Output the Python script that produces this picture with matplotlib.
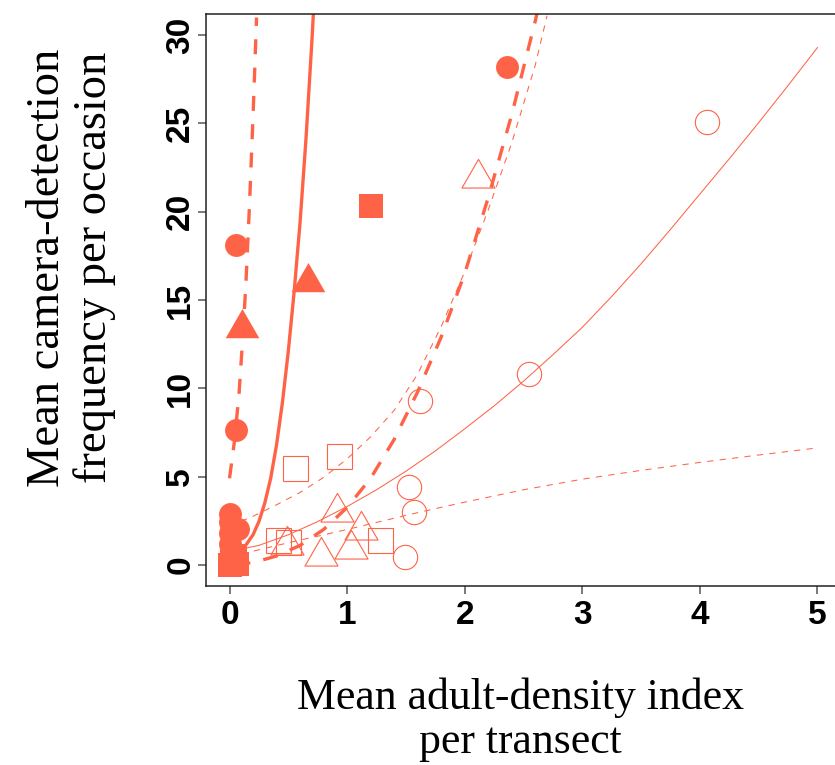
import matplotlib
matplotlib.use("Agg")
import matplotlib.pyplot as plt
from matplotlib.path import Path

TOMATO = "#FF6347"

# ── points ───────────────────────────────────────────────────────────────────
fill_circ_x = [0.00, 0.00, 0.00, 0.07, 0.00, 0.03, 0.055, 0.055, 2.36]
fill_circ_y = [2.85, 2.45, 1.80, 2.00, 1.20, 0.80, 7.65, 18.1, 28.2]
fill_sq_x   = [0.00, 0.06, 0.02, 0.05, 1.20]
fill_sq_y   = [0.00, 0.02, 0.35, 0.50, 20.3]
fill_tri_x  = [0.11, 0.665]
fill_tri_y  = [13.4, 16.0]

open_circ_x = [4.06, 2.55, 1.62, 1.53, 1.57, 1.49]
open_circ_y = [25.1, 10.8, 9.28, 4.38, 3.00, 0.46]
open_sq_x   = [0.557, 0.934, 0.41, 0.50, 1.28]
open_sq_y   = [5.48, 6.19, 1.42, 1.28, 1.38]
open_tri_x  = [0.915, 1.12, 0.78, 1.035, 0.49, 2.11]
open_tri_y  = [2.97, 1.98, 0.50, 0.90, 1.10, 21.9]

# ── fitted curves (sampled from the figure) ─────────────────────────────────
# thick dashed, steep
c1_x = [0.00, 0.04, 0.08, 0.11, 0.14, 0.17, 0.20, 0.23]
c1_y = [4.9, 6.9, 9.6, 12.6, 16.0, 20.4, 25.4, 31.0]
# thick solid
c2_x = [0.00, 0.10, 0.20, 0.25, 0.30, 0.35, 0.40, 0.45, 0.50, 0.55, 0.60,
        0.65, 0.70, 0.713]
c2_y = [0.30, 0.75, 1.70, 2.45, 3.50, 4.90, 6.80, 9.20, 12.1, 15.5, 19.4,
        24.1, 29.6, 31.2]
# thick dashed, second
c3_x = [0.05, 0.20, 0.40, 0.60, 0.80, 1.00, 1.20, 1.40, 1.60, 1.80, 2.00,
        2.20, 2.40, 2.60, 2.62]
c3_y = [0.03, 0.12, 0.50, 1.10, 2.00, 3.25, 4.90, 7.10, 9.80, 12.9, 16.5,
        20.8, 25.5, 30.8, 31.4]
# thin dashed, upper
c4_x = [0.00, 0.20, 0.40, 0.60, 0.80, 1.00, 1.20, 1.40, 1.60, 1.80, 2.00,
        2.20, 2.40, 2.60, 2.70]
c4_y = [2.20, 2.75, 3.40, 4.10, 4.95, 6.00, 7.25, 8.75, 10.8, 13.5, 16.6,
        20.1, 23.9, 28.3, 31.1]
# thin solid
c5_x = [0.00, 0.25, 0.50, 0.75, 1.00, 1.25, 1.50, 1.75, 2.00, 2.25, 2.50,
        2.75, 3.00, 3.25, 3.50, 3.75, 4.00, 4.25, 4.50, 4.75, 5.00]
c5_y = [0.75, 1.10, 1.70, 2.45, 3.30, 4.25, 5.30, 6.45, 7.70, 9.00, 10.4,
        11.9, 13.45, 15.2, 17.05, 19.0, 21.0, 23.0, 25.05, 27.15, 29.3]
# thin dashed, lower
c6_x = [0.00, 0.25, 0.50, 0.75, 1.00, 1.25, 1.50, 1.75, 2.00, 2.50, 2.75,
        3.00, 3.50, 4.00, 4.50, 5.00]
c6_y = [0.45, 0.85, 1.25, 1.62, 2.00, 2.40, 2.80, 3.18, 3.55, 4.25, 4.55,
        4.85, 5.35, 5.80, 6.22, 6.62]

x_ticks = [0, 1, 2, 3, 4, 5]
y_ticks = [0, 5, 10, 15, 20, 25, 30]

# R-style equilateral triangle centred on its circumcentre
tri = Path([(0, 1.5551), (1.3468, -0.7776), (-1.3468, -0.7776), (0, 1.5551)],
           [Path.MOVETO, Path.LINETO, Path.LINETO, Path.CLOSEPOLY])

fig = plt.figure(figsize=(8.35, 7.65), dpi=100)
ax = fig.add_axes([0.2467, 0.234, 0.7605, 0.7477])

# filled symbols
ax.plot(fill_circ_x, fill_circ_y, ls="none", marker="o", ms=16.5,
        mfc=TOMATO, mec=TOMATO, mew=0)
ax.plot(fill_sq_x, fill_sq_y, ls="none", marker="s", ms=17,
        mfc=TOMATO, mec=TOMATO, mew=0)
ax.plot(fill_tri_x, fill_tri_y, ls="none", marker=tri, ms=28,
        mfc=TOMATO, mec=TOMATO, mew=0)

# open symbols
ax.plot(open_circ_x, open_circ_y, ls="none", marker="o", ms=17.5,
        mfc="none", mec=TOMATO, mew=0.8)
ax.plot(open_sq_x, open_sq_y, ls="none", marker="s", ms=18,
        mfc="none", mec=TOMATO, mew=0.8)
ax.plot(open_tri_x, open_tri_y, ls="none", marker=tri, ms=27.5,
        mfc="none", mec=TOMATO, mew=0.8)

# curves
ax.plot(c1_x, c1_y, color=TOMATO, lw=2.4, dashes=[4.5, 4])
ax.plot(c2_x, c2_y, color=TOMATO, lw=2.4)
ax.plot(c3_x, c3_y, color=TOMATO, lw=2.4, dashes=[4.5, 4])
ax.plot(c4_x, c4_y, color=TOMATO, lw=0.75, dashes=[6, 6])
ax.plot(c5_x, c5_y, color=TOMATO, lw=0.75)
ax.plot(c6_x, c6_y, color=TOMATO, lw=0.75, dashes=[6, 6])

ax.set_xlim(-0.2, 5.2)
ax.set_ylim(-1.2, 31.2)
ax.set_xticks(x_ticks)
ax.set_yticks(y_ticks)
ax.set_xticklabels([str(v) for v in x_ticks], family="Liberation Sans",
                   fontweight="bold", fontsize=24)
ax.set_yticklabels([str(v) for v in y_ticks], family="Liberation Sans",
                   fontweight="bold", fontsize=24, rotation=90, va="center")
ax.tick_params(direction="out", length=6, width=1.1, color="#555", pad=4)
ax.tick_params(axis="y", pad=1)
for s in ax.spines.values():
    s.set_color("#222")
    s.set_linewidth(1.1)

fig.text(0.623, 0.059, "Mean adult-density index\nper transect",
         family="Liberation Serif", fontsize=31.5, ha="center", va="center",
         linespacing=1.15)
fig.text(0.085, 0.650, "Mean camera-detection\nfrequency per occasion",
         family="Liberation Serif", fontsize=33.5, ha="center", va="center",
         rotation=90, linespacing=1.12)

fig.savefig("out.png", dpi=100, facecolor="white")
